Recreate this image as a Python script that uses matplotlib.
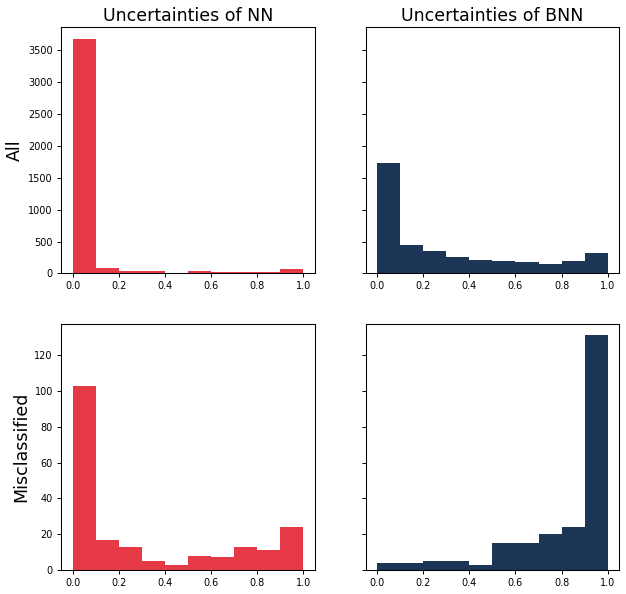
import numpy as np
import matplotlib
matplotlib.use("Agg")
import matplotlib.pyplot as plt

bin_edges = [0.0, 0.1, 0.2, 0.3, 0.4, 0.5, 0.6, 0.7, 0.8, 0.9, 1.0]
nn_all = [3680, 83, 36, 36, 0, 36, 25, 25, 25, 67]
bnn_all = [1730, 444, 350, 256, 209, 193, 178, 146, 193, 319]
nn_mis = [103, 17, 13, 5, 3, 8, 7, 13, 11, 24]
bnn_mis = [4, 4, 5, 5, 3, 15, 15, 20, 24, 131]

col_titles = ["Uncertainties of NN", "Uncertainties of BNN"]
row_labels = ["All", "Misclassified"]
red = "#E63946"
navy = "#1D3557"

fig, axes = plt.subplots(2, 2, sharey="row", figsize=(6.26, 5.94), dpi=100)
fig.subplots_adjust(left=0.0974, right=0.9893, top=0.9545, bottom=0.0404,
                    wspace=0.2, hspace=0.204)

data = [[nn_all, bnn_all], [nn_mis, bnn_mis]]
colors = [red, navy]
edges = np.array(bin_edges)
centers = (edges[:-1] + edges[1:]) / 2
for r in range(2):
    for c in range(2):
        ax = axes[r][c]
        ax.hist(centers, bins=edges, weights=data[r][c], color=colors[c])
        ax.tick_params(labelsize=7.0, length=2.9, pad=2.9, width=0.7)
        for s in ax.spines.values():
            s.set_linewidth(0.75)
for c in range(2):
    axes[0][c].set_title(col_titles[c], fontsize=12.5, pad=4.5)
for r in range(2):
    axes[r][0].set_ylabel(row_labels[r], fontsize=12.5, labelpad=3)

fig.savefig("out.png", dpi=100, facecolor="white")
